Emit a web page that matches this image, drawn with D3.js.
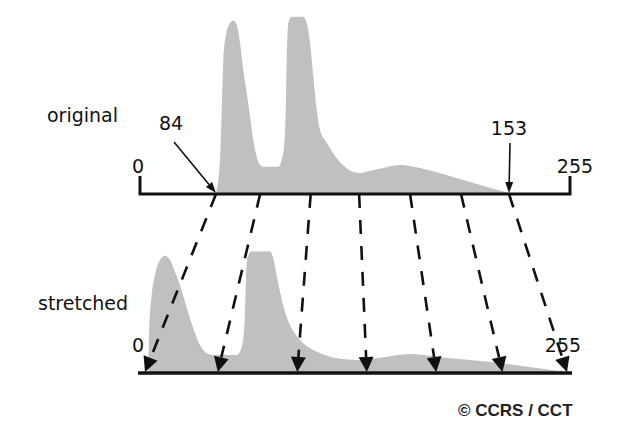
<!DOCTYPE html>
<html><head><meta charset="utf-8">
<script src="https://cdn.jsdelivr.net/npm/d3@7"></script>
<style>html,body{margin:0;padding:0;background:#fff;} svg{display:block;}</style>
</head><body>
<svg id="chart" width="636" height="440"></svg>
<script>
// ---- data ----
const originalDN    = [84, 84.94, 85.34, 85.72, 86.28, 87.3, 88.07, 88.88, 89.65, 90.43, 91.23, 92.01, 92.78, 93.59, 94.36, 95.14, 98.67, 99.47, 100.09, 100.42, 100.65, 101.03, 101.83, 104.56, 105.36, 106.14, 106.92, 107.72, 108.49, 110.14, 112.03, 113.91, 116.03, 117.91, 120.27, 123.33, 127.34, 132.05, 139.82, 147.82, 153];
const originalCount = [0, 18.8, 47.2, 75.6, 88.8, 96.4, 97.9, 95.5, 85.2, 69.9, 56.8, 43.4, 30.1, 20.6, 15.9, 14.9, 14.9, 18.8, 28.4, 47.2, 75.6, 96.4, 100, 100, 96.4, 85.2, 66.1, 47.2, 35.8, 28.4, 21, 15.9, 12.2, 11.4, 12.5, 14.2, 15.9, 14.2, 9.1, 3.4, 0];
const stretchedDN    = [2.0, 2.6, 4.05, 6.04, 9.06, 12.08, 15.11, 18.13, 21.15, 24.17, 27.19, 30.21, 33.23, 37.28, 40.3, 55.4, 57.4, 59.4, 60.42, 61.03, 61.81, 64.47, 75.53, 77.52, 79.15, 81.57, 84.59, 87.61, 91.66, 95.47, 101.7, 108.8, 115.8, 129.9, 146, 160.1, 176.3, 196.4, 216.5, 236.7, 255];
const stretchedCount = [0, 25, 43.75, 55.1, 63.6, 66.1, 63.6, 57, 49.4, 39.9, 30.5, 22, 15.3, 10.6, 9.7, 9.7, 11.5, 19.1, 34.3, 53.2, 64.6, 68.4, 68.4, 64.6, 57, 45.6, 34.3, 26.7, 20.5, 16.5, 12.5, 9.7, 7.8, 6.8, 8.7, 10.2, 8.7, 6.8, 4.9, 2.3, 0];
const topAxisValues  = [0, 84, 153, 255];
const topEndLabels   = ["0", "255"];
const botEndLabels   = ["0", "255"];
const cutLabels      = ["84", "153"];
const mapFrom = [84, 94.4, 106.3, 117.7, 129.7, 141.7, 153];
const mapTo   = [0, 44, 92, 134, 176, 216, 255];
const rowLabels = ["original", "stretched"];
const credit = "\u00A9 CCRS / CCT";

// ---- scales ----
const svg = d3.select("#chart");
const xTop = d3.scaleLinear().domain(topAxisValues).range([140, 216, 509, 570]);
const xBot = d3.scaleLinear().domain([0, 255]).range([145, 567]);
const yTop = d3.scaleLinear().domain([0, 100]).range([193, 16.7]);
const yBot = d3.scaleLinear().domain([0, 100]).range([372, 196]);
const topY = 194, botY = 373;
const FILL = "#c0c0c0", INK = "#111";
const font = "DejaVu Sans, Verdana, sans-serif";

// ---- histograms ----
const topData = originalDN.map((d, i) => ({x: d, y: originalCount[i]}));
const botData = stretchedDN.map((d, i) => ({x: d, y: stretchedCount[i]}));
svg.append("path").datum(topData)
  .attr("d", d3.area().curve(d3.curveMonotoneX).x(d => xTop(d.x)).y0(yTop(0)).y1(d => yTop(d.y)))
  .attr("fill", FILL);
svg.append("path").datum(botData)
  .attr("d", d3.area().curve(d3.curveMonotoneX).x(d => xBot(d.x)).y0(yBot(0)).y1(d => yBot(d.y)))
  .attr("fill", FILL);

// ---- helper: arrow head ----
function head(x0, y0, x1, y1, len, half) {
  const dx = x1 - x0, dy = y1 - y0, L = Math.hypot(dx, dy);
  const ux = dx / L, uy = dy / L, px = -uy, py = ux;
  const bx = x1 - ux * len, by = y1 - uy * len;
  return {base: [bx, by], pts: [[x1, y1], [bx + px * half, by + py * half], [bx - px * half, by - py * half]]};
}

// ---- top axis ----
const x0 = xTop(0), x255 = xTop(255);
svg.append("path")
  .attr("d", `M${x0},176V${topY}H${x255}V176`)
  .attr("fill", "none").attr("stroke", INK).attr("stroke-width", 3);
svg.selectAll("text.topEnd").data(topEndLabels).join("text")
  .attr("x", d => xTop(+d) - (d === "0" ? 2 : -5)).attr("y", 173)
  .attr("text-anchor", "middle").attr("font-family", font).attr("font-size", 19).attr("fill", INK)
  .text(d => d);

// cut-point labels with arrows
const cutPos = [{lx: 171, ly: 130, sx: 174, sy: 142}, {lx: 509, ly: 135, sx: 510, sy: 143}];
cutLabels.forEach((lab, i) => {
  const c = cutPos[i];
  svg.append("text").attr("x", c.lx).attr("y", c.ly).attr("text-anchor", "middle")
    .attr("font-family", font).attr("font-size", 19).attr("fill", INK).text(lab);
  const tx = xTop(+lab), ty = topY - 1;
  const h = head(c.sx, c.sy, tx, ty, 11, 4);
  svg.append("line").attr("x1", c.sx).attr("y1", c.sy).attr("x2", h.base[0]).attr("y2", h.base[1])
    .attr("stroke", INK).attr("stroke-width", 1.6);
  svg.append("polygon").attr("points", h.pts.map(p => p.join(",")).join(" ")).attr("fill", INK);
});

// ---- bottom axis ----
svg.append("line").attr("x1", xBot(0) - 7).attr("x2", xBot(255) + 5)
  .attr("y1", botY).attr("y2", botY).attr("stroke", INK).attr("stroke-width", 3.5);
svg.selectAll("text.botEnd").data(botEndLabels).join("text")
  .attr("x", d => xBot(+d) + (d === "0" ? -7 : -4)).attr("y", 352)
  .attr("text-anchor", "middle").attr("font-family", font).attr("font-size", 19).attr("fill", INK)
  .text(d => d);

// ---- mapping dashed arrows ----
mapFrom.forEach((v, i) => {
  const sx = xTop(v), sy = topY, tx = xBot(mapTo[i]), ty = 372;
  const h = head(sx, sy, tx, ty, 15, 7.5);
  svg.append("line").attr("x1", sx).attr("y1", sy).attr("x2", h.base[0]).attr("y2", h.base[1])
    .attr("stroke", INK).attr("stroke-width", 2.6).attr("stroke-dasharray", "14,12");
  svg.append("polygon").attr("points", h.pts.map(p => p.join(",")).join(" ")).attr("fill", INK);
});

// ---- row labels ----
svg.append("text").attr("x", 47).attr("y", 122).attr("font-family", font).attr("font-size", 19)
  .attr("fill", INK).text(rowLabels[0]);
svg.append("text").attr("x", 38).attr("y", 310).attr("font-family", font).attr("font-size", 19)
  .attr("fill", INK).text(rowLabels[1]);

// ---- credit ----
svg.append("text").attr("x", 458).attr("y", 416)
  .attr("font-family", "Liberation Sans, Arial, sans-serif").attr("font-weight", "bold")
  .attr("font-size", 17).attr("fill", "#222").text(credit);
</script>
</body></html>
